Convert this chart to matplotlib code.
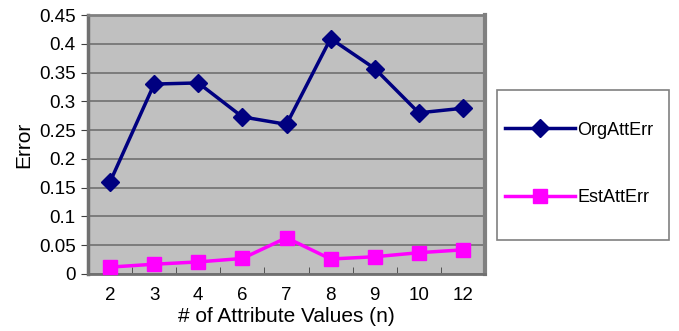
import matplotlib
matplotlib.use("Agg")
import matplotlib.pyplot as plt
from matplotlib.ticker import FixedLocator
from matplotlib.patches import Rectangle

plt.rcParams['font.family'] = ['Liberation Sans', 'DejaVu Sans']

categories = ["2", "3", "4", "6", "7", "8", "9", "10", "12"]
org_att_err = [0.160, 0.330, 0.332, 0.273, 0.260, 0.409, 0.357, 0.280, 0.288]
est_att_err = [0.012, 0.017, 0.021, 0.027, 0.063, 0.026, 0.030, 0.037, 0.042]
y_ticks = [0, 0.05, 0.1, 0.15, 0.2, 0.25, 0.3, 0.35, 0.4, 0.45]
y_tick_labels = ['0', '0.05', '0.1', '0.15', '0.2', '0.25', '0.3', '0.35', '0.4', '0.45']

W, H = 679, 331
fig = plt.figure(figsize=(W / 100, H / 100), dpi=100)
ax = fig.add_axes([88 / W, 1 - 274 / H, (485 - 88) / W, (274 - 15) / H])
ax.set_facecolor('#C0C0C0')

x = list(range(len(categories)))
l1, = ax.plot(x, org_att_err, color='#000080', lw=2.5, marker='D', ms=9.5,
              label='OrgAttErr', zorder=3, clip_on=False)
l2, = ax.plot(x, est_att_err, color='#FF00FF', lw=2.5, marker='s', ms=10,
              label='EstAttErr', zorder=3, clip_on=False)

ax.set_xlim(-0.5, len(categories) - 0.5)
ax.set_ylim(0, 0.45)
ax.set_xticks(x)
ax.set_xticklabels(categories)
ax.xaxis.set_minor_locator(FixedLocator([i + 0.5 for i in range(len(categories) - 1)]))
ax.tick_params(axis='x', which='major', length=0, labelsize=13.5, pad=9)
ax.tick_params(axis='x', which='minor', direction='in', length=5, color='#404040')
ax.set_yticks(y_ticks)
ax.set_yticklabels(y_tick_labels)
ax.tick_params(axis='y', direction='out', length=5, labelsize=13.5, color='#404040', pad=4)
ax.grid(axis='y', color='#707070', lw=1.2)
ax.set_axisbelow(True)

ax.spines['top'].set_color('#808080')
ax.spines['top'].set_linewidth(2)
ax.spines['right'].set_color('#808080')
ax.spines['right'].set_linewidth(3)
ax.spines['left'].set_color('#707070')
ax.spines['left'].set_linewidth(2.5)
ax.spines['bottom'].set_color('#707070')
ax.spines['bottom'].set_linewidth(2)

fig.text(24 / W, 1 - 145 / H, 'Error', rotation=90, ha='center', va='center', fontsize=15)
fig.text(286 / W, 1 - 317 / H, '# of Attribute Values (n)', ha='center', va='center', fontsize=15)

# legend box
fig.patches.append(Rectangle((497 / W, 1 - 240 / H), (669 - 497) / W, (240 - 90) / H,
                             transform=fig.transFigure, facecolor='white',
                             edgecolor='#808080', lw=1.2, zorder=1))
leg = fig.legend(handles=[l1, l2], loc='center left',
                 bbox_to_anchor=(505 / W, 1 - 164 / H), fontsize=13,
                 frameon=False, handlelength=3.9, labelspacing=2.8,
                 borderpad=0, handletextpad=0.1, borderaxespad=0)
leg.set_zorder(2)

fig.savefig('out.png', dpi=100)
